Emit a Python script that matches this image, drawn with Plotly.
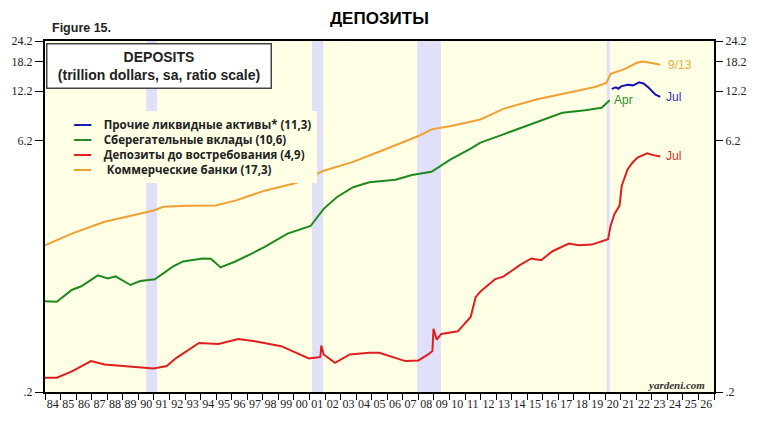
import plotly.graph_objects as go
import numpy as np

# ---------------- data (trillion dollars) ----------------
comm_t = [1984.0, 1985.72, 1987.83, 1989.93, 1990.98, 1991.61, 1993.08, 1994.97, 1996.23, 1998.12,
          2000.12, 2001.91, 2003.80, 2005.88, 2008.00, 2008.84, 2010.10, 2011.99, 2013.46, 2015.57,
          2017.67, 2019.35, 2020.08, 2020.36, 2021.24, 2022.08, 2022.51, 2023.55]
comm_v = [1.485, 1.740, 2.048, 2.283, 2.387, 2.510, 2.544, 2.555, 2.734, 3.131,
          3.476, 4.108, 4.641, 5.513, 6.605, 7.234, 7.566, 8.286, 9.579, 10.87,
          12.0, 12.91, 13.63, 15.46, 16.48, 18.03, 18.27, 17.47]

sav_t = [1984.0, 1984.67, 1984.76, 1985.72, 1986.33, 1987.40, 1988.04, 1988.54, 1989.49, 1990.12,
         1991.06, 1992.24, 1992.87, 1994.13, 1994.66, 1995.29, 1996.23, 1997.29, 1998.12, 1999.59,
         2001.07, 2001.91, 2002.75, 2003.80, 2004.85, 2006.53, 2007.58, 2008.84, 2010.10, 2011.36,
         2011.99, 2013.46, 2015.57, 2017.25, 2018.72, 2019.77, 2020.30]
sav_v = [0.692, 0.690, 0.686, 0.806, 0.848, 0.984, 0.945, 0.971, 0.863, 0.911,
         0.932, 1.112, 1.190, 1.240, 1.236, 1.097, 1.190, 1.326, 1.453, 1.740,
         1.932, 2.443, 2.863, 3.280, 3.511, 3.636, 3.876, 4.053, 4.815, 5.566,
         6.039, 6.759, 7.922, 9.076, 9.400, 9.710, 10.76]

oth_t = [2020.43, 2020.70, 2020.85, 2021.03, 2021.45, 2021.80, 2022.19, 2022.50, 2022.82, 2023.24, 2023.55]
oth_v = [12.57, 12.85, 12.60, 13.02, 13.32, 13.20, 13.75, 13.50, 12.74, 11.63, 11.27]

dem_t = [1984.0, 1984.76, 1985.70, 1986.96, 1987.83, 1989.49, 1990.98, 1991.82, 1992.45, 1993.90,
         1995.16, 1996.42, 1997.49, 1999.18, 2000.96, 2001.59, 2001.70, 2001.76, 2001.91, 2002.64,
         2003.59, 2004.85, 2005.48, 2007.16, 2008.00, 2008.63, 2008.90, 2008.97, 2009.18, 2009.47,
         2010.53, 2011.36, 2011.68, 2011.99, 2012.94, 2013.46, 2014.52, 2015.25, 2015.89, 2016.62,
         2017.67, 2018.30, 2019.14, 2020.19, 2020.36, 2020.61, 2020.93, 2021.07, 2021.45, 2021.77,
         2022.08, 2022.71, 2023.03, 2023.55]
dem_v = [0.243, 0.243, 0.264, 0.305, 0.291, 0.283, 0.276, 0.285, 0.319, 0.391,
         0.386, 0.413, 0.400, 0.374, 0.316, 0.322, 0.323, 0.377, 0.334, 0.298,
         0.334, 0.342, 0.342, 0.305, 0.308, 0.334, 0.350, 0.475, 0.409, 0.442,
         0.458, 0.557, 0.731, 0.789, 0.936, 0.967, 1.132, 1.240, 1.211, 1.369,
         1.519, 1.485, 1.499, 1.611, 1.948, 2.283, 2.555, 3.351, 4.203, 4.604,
         4.926, 5.224, 5.105, 4.995]

rec_start = [1990.50, 2001.17, 2007.92, 2020.10]
rec_end = [1991.20, 2001.88, 2009.45, 2020.30]

year_labels = ["%02d" % (y % 100) for y in range(1984, 2027)]
year_pos = [y + 0.5 for y in range(1984, 2027)]
y_ticks = [0.2, 6.2, 12.2, 18.2, 24.2]
y_ticktext = [".2", "6.2", "12.2", "18.2", "24.2"]

names = ["Прочие ликвидные активы* (11,3)", "Сберегательные вклады (10,6)",
         "Депозиты до востребования (4,9)", " Коммерческие банки (17,3)"]

# ---------------- figure ----------------
C_BLUE = "#1414B4"
C_GREEN = "#1E8A1E"
C_RED = "#E01E1E"
C_ORANGE = "#F0A030"
colors = [C_BLUE, C_GREEN, C_RED, C_ORANGE]

fig = go.Figure()
for t, v, nm, c in [(oth_t, oth_v, names[0], C_BLUE), (sav_t, sav_v, names[1], C_GREEN),
                    (dem_t, dem_v, names[2], C_RED), (comm_t, comm_v, names[3], C_ORANGE)]:
    fig.add_trace(go.Scatter(x=t, y=v, mode="lines", name=nm, showlegend=False,
                             line=dict(color=c, width=2)))
# invisible trace to activate the right-hand axis
fig.add_trace(go.Scatter(x=comm_t, y=comm_v, mode="lines", yaxis="y2", showlegend=False,
                         hoverinfo="skip", opacity=0, line=dict(width=0)))

for s, e in zip(rec_start, rec_end):
    fig.add_shape(type="rect", xref="x", yref="paper", x0=s, x1=e, y0=0, y1=1,
                  fillcolor="#E0E0F8", line=dict(width=0), layer="below")

serif = "Liberation Serif"
yax = dict(type="log", range=[np.log10(0.2), np.log10(24.2)], tickvals=y_ticks,
           ticktext=y_ticktext, ticks="outside", ticklen=8, tickwidth=1, tickcolor="black",
           showgrid=False, zeroline=False, tickfont=dict(family=serif, size=12, color="#222"))

fig.update_layout(
    width=758, height=423,
    margin=dict(l=36, r=40, t=41, b=29),
    paper_bgcolor="white", plot_bgcolor="#FFFFE6",
    showlegend=False,
    xaxis=dict(range=[1984, 2027], tickvals=year_pos, ticktext=year_labels, ticks="",
               showline=True, linecolor="black", linewidth=2, mirror=True,
               showgrid=False, zeroline=False,
               tickfont=dict(family=serif, size=12, color="#222"),
               minor=dict(tickvals=list(range(1984, 2028)), ticks="outside", ticklen=6,
                          tickwidth=1, tickcolor="black", showgrid=False)),
    yaxis=dict(**yax, showline=True, linecolor="black", linewidth=2, mirror=True),
    yaxis2=dict(**yax, overlaying="y", side="right", showline=False),
)

# legend (built as text so its row spacing matches)
legend_rows = ['<span style="color:%s">━━╸</span>   %s' % (c, n)
               for c, n in zip(colors, names)]
fig.add_annotation(xref="paper", yref="paper", x=0.0323, y=0.7995, xanchor="left", yanchor="top",
                   text="<br>".join(legend_rows), showarrow=False, align="left",
                   font=dict(family="Open Sans, DejaVu Sans", size=11.5, color="#222", weight="bold"),
                   bgcolor="#FFFFE6", borderwidth=0, borderpad=6)

fig.add_annotation(xref="paper", yref="paper", x=0.170, y=0.928, xanchor="center", yanchor="middle",
                   text="<b>DEPOSITS</b><br><b>(trillion dollars, sa, ratio scale)</b>", showarrow=False,
                   font=dict(family="Liberation Sans", size=14, color="#222"),
                   bgcolor="white", bordercolor="#444", borderwidth=1.5, borderpad=2,
                   width=219, height=39, align="center")
fig.add_annotation(xref="paper", yref="paper", x=0.5, y=1.065, xanchor="center", yanchor="middle",
                   text="<b>ДЕПОЗИТЫ</b>", showarrow=False,
                   font=dict(family="Liberation Sans", size=17, color="black"))
fig.add_annotation(xref="paper", yref="paper", x=0.008, y=1.037, xanchor="left", yanchor="middle",
                   text="<b>Figure 15.</b>", showarrow=False,
                   font=dict(family="Liberation Sans", size=12.5, color="#222"))
fig.add_annotation(xref="paper", yref="paper", x=0.99, y=0.02, xanchor="right", yanchor="middle",
                   text="<b><i>yardeni.com</i></b>", showarrow=False,
                   font=dict(family=serif, size=11, color="#333"))

# end labels
fig.add_annotation(x=comm_t[-1], y=np.log10(comm_v[-1]), text="9/13", showarrow=False,
                   xanchor="left", xshift=6, font=dict(family="Liberation Sans", size=12, color="#E8A848"))
fig.add_annotation(x=oth_t[-1], y=np.log10(oth_v[-1]), text="Jul", showarrow=False,
                   xanchor="left", xshift=4, font=dict(family="Liberation Sans", size=12, color="#3030C0"))
fig.add_annotation(x=sav_t[-1], y=np.log10(sav_v[-1]), text="Apr", showarrow=False,
                   xanchor="left", xshift=2, font=dict(family="Liberation Sans", size=12, color="#2E8B2E"))
fig.add_annotation(x=dem_t[-1], y=np.log10(dem_v[-1]), text="Jul", showarrow=False,
                   xanchor="left", xshift=4, font=dict(family="Liberation Sans", size=12, color="#D03030"))

fig.write_html("out.html")
